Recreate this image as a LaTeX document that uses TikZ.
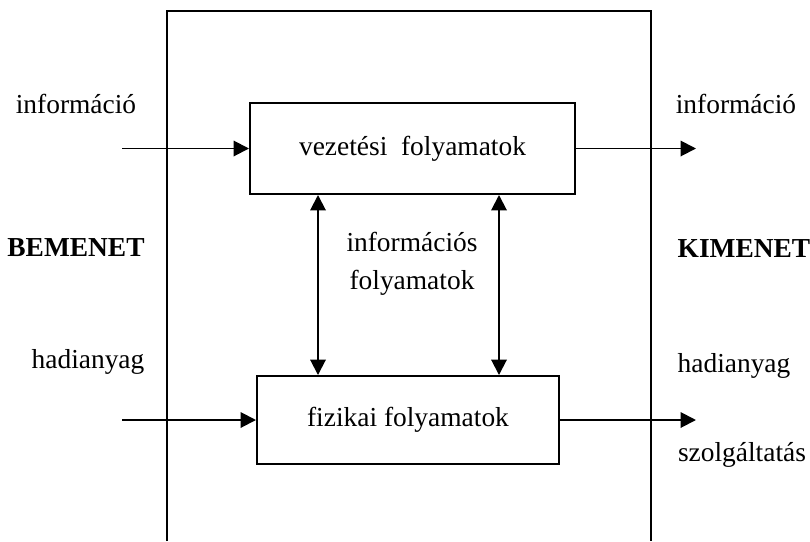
\documentclass[tikz,border=0pt]{standalone}
\usepackage{fontspec}
\setmainfont{Liberation Serif}
\usetikzlibrary{positioning, arrows.meta, calc}

\begin{document}
\begin{tikzpicture}[x=0.025cm,y=-0.025cm,line width=1.4pt,
   font=\fontsize{19.5}{27}\selectfont,
   box/.style={draw,rectangle,inner sep=0pt},
   flow/.style={-{Triangle[length=11pt,width=11pt]}},
   both/.style={{Triangle[length=11pt,width=11pt]}-{Triangle[length=11pt,width=11pt]}}]

   \useasboundingbox (0,0) rectangle (810,541);

   % the system frame, open at the bottom
   \draw (167,541) -- (167,11) -- (651,11) -- (651,541);

   \node[box,minimum width=325*0.025cm,minimum height=91*0.025cm] (p_vez) at (412.5,148.5) {vezet\'esi\ \ folyamatok};
   \node[box,minimum width=302*0.025cm,minimum height=88*0.025cm] (p_fiz) at (408,420) {fizikai folyamatok};

   \node (l_inf) at (76,104) {inform\'aci\'o};
   \node[font=\fontsize{19.5}{27}\selectfont\bfseries] (l_be) at (76,248) {BEMENET};
   \node (l_had) at (88,362) {hadianyag};
   \node (r_inf) at (736,104) {inform\'aci\'o};
   \node[font=\fontsize{19.5}{27}\selectfont\bfseries] (r_ki) at (744,249) {KIMENET};
   \node (r_had) at (734,366) {hadianyag};
   \node (r_szo) at (742,455) {szolg\'altat\'as};
   \node[align=center] (m_inf) at (412,264) {inform\'aci\'os\\folyamatok};

   \coordinate (in_inf) at (122,148.5);
   \coordinate (in_had) at (122,420);
   \coordinate (out_inf) at (696,148.5);
   \coordinate (out_szo) at (696,420);
   \coordinate (v_l) at ($(p_vez.south)+(-94.5,0)$);
   \coordinate (v_r) at ($(p_vez.south)+(86.5,0)$);

   \path[flow]
   (in_inf) edge (p_vez)
   (p_vez) edge (out_inf)
   (in_had) edge (p_fiz)
   (p_fiz) edge (out_szo);

   \path[both]
   (v_l) edge (v_l |- p_fiz.north)
   (v_r) edge (v_r |- p_fiz.north);

\end{tikzpicture}
\end{document}
